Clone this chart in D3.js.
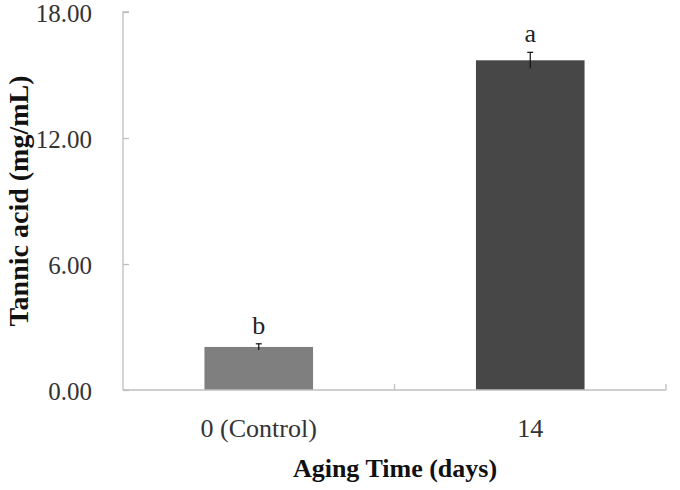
<!DOCTYPE html>
<html>
<head>
<meta charset="utf-8">
<script src="https://cdn.jsdelivr.net/npm/d3@7"></script>
<style>
  html, body { margin: 0; padding: 0; background: #fff; }
  svg { display: block; font-family: "Liberation Serif", "Times New Roman", serif; }
</style>
</head>
<body>
<div id="chart"></div>
<script>
// Tannic acid content vs aging time, bar chart with error bars and significance letters.

const categories = ['0 (Control)', '14'];
const values = [2.05, 15.7];
const errors = [0.15, 0.38];
const letters = ['b', 'a'];
const barColors = ['#7f7f7f', '#474747'];
const yTicks = [0, 6, 12, 18];

const width = 680;
const height = 490;
const margin = { top: 12, right: 14, bottom: 100, left: 123 };

const svg = d3.select('#chart')
  .append('svg')
  .attr('width', width)
  .attr('height', height);

const x = d3.scaleBand()
  .domain(categories)
  .range([margin.left, width - margin.right])
  .paddingInner(0.6)
  .paddingOuter(0.3);

const y = d3.scaleLinear()
  .domain([0, 18])
  .range([height - margin.bottom, margin.top]);

// Bars
svg.selectAll('rect.bar')
  .data(values)
  .enter().append('rect')
  .attr('class', 'bar')
  .attr('x', (d, i) => x(categories[i]))
  .attr('y', d => y(d))
  .attr('width', x.bandwidth())
  .attr('height', d => y(0) - y(d))
  .attr('fill', (d, i) => barColors[i]);

// Error bars (upper half only shows above the bar)
const errG = svg.selectAll('g.err')
  .data(values)
  .enter().append('g')
  .attr('class', 'err')
  .attr('transform', (d, i) => `translate(${x(categories[i]) + x.bandwidth() / 2},0)`);
errG.append('line')
  .attr('y1', (d, i) => y(d - errors[i]))
  .attr('y2', (d, i) => y(d + errors[i]))
  .attr('stroke', '#111')
  .attr('stroke-width', 1.2);
errG.append('line')
  .attr('x1', -3).attr('x2', 3)
  .attr('y1', (d, i) => y(d + errors[i]))
  .attr('y2', (d, i) => y(d + errors[i]))
  .attr('stroke', '#111')
  .attr('stroke-width', 1.2);

// Significance letters
svg.selectAll('text.letter')
  .data(values)
  .enter().append('text')
  .attr('class', 'letter')
  .attr('x', (d, i) => x(categories[i]) + x.bandwidth() / 2)
  .attr('y', (d, i) => y(d + errors[i]) - 10)
  .attr('text-anchor', 'middle')
  .attr('font-size', '26px')
  .attr('fill', '#222')
  .text((d, i) => letters[i]);

// Y axis (ticks point inward)
const yAxis = svg.append('g')
  .attr('transform', `translate(${margin.left},0)`)
  .call(d3.axisRight(y).tickValues(yTicks).tickSize(6).tickFormat(''));
yAxis.select('.domain').attr('d', `M6,${y(18)}H0V${y(0)}`);
yAxis.selectAll('path, line').attr('stroke', '#bfbfbf').attr('stroke-width', 1.3);

svg.selectAll('text.ytick')
  .data(yTicks)
  .enter().append('text')
  .attr('class', 'ytick')
  .attr('x', 92)
  .attr('y', d => y(d) + 1)
  .attr('dy', '0.35em')
  .attr('text-anchor', 'end')
  .attr('font-size', '25px')
  .attr('fill', '#333')
  .text(d => d3.format('.2f')(d));

// X axis: boundary ticks between categories, pointing up
const xEdges = [margin.left, x(categories[1]) - x.step() * x.paddingInner() / 2, width - margin.right];
svg.append('line')
  .attr('x1', margin.left).attr('x2', width - margin.right)
  .attr('y1', y(0)).attr('y2', y(0))
  .attr('stroke', '#bfbfbf').attr('stroke-width', 1.3);
svg.selectAll('line.xtick')
  .data(xEdges.slice(1))
  .enter().append('line')
  .attr('class', 'xtick')
  .attr('x1', d => d).attr('x2', d => d)
  .attr('y1', y(0)).attr('y2', y(0) - 6)
  .attr('stroke', '#bfbfbf').attr('stroke-width', 1.3);

svg.selectAll('text.xtick')
  .data(categories)
  .enter().append('text')
  .attr('class', 'xtick')
  .attr('x', d => x(d) + x.bandwidth() / 2)
  .attr('y', 437)
  .attr('text-anchor', 'middle')
  .attr('font-size', '26px')
  .attr('fill', '#333')
  .text(d => d);

// Axis titles
svg.append('text')
  .attr('x', 395)
  .attr('y', 477)
  .attr('text-anchor', 'middle')
  .attr('font-size', '26px')
  .attr('font-weight', 'bold')
  .attr('fill', '#111')
  .text('Aging Time (days)');

svg.append('text')
  .attr('transform', 'translate(28,201) rotate(-90)')
  .attr('text-anchor', 'middle')
  .attr('font-size', '28px')
  .attr('font-weight', 'bold')
  .attr('fill', '#111')
  .text('Tannic acid (mg/mL)');
</script>
</body>
</html>
